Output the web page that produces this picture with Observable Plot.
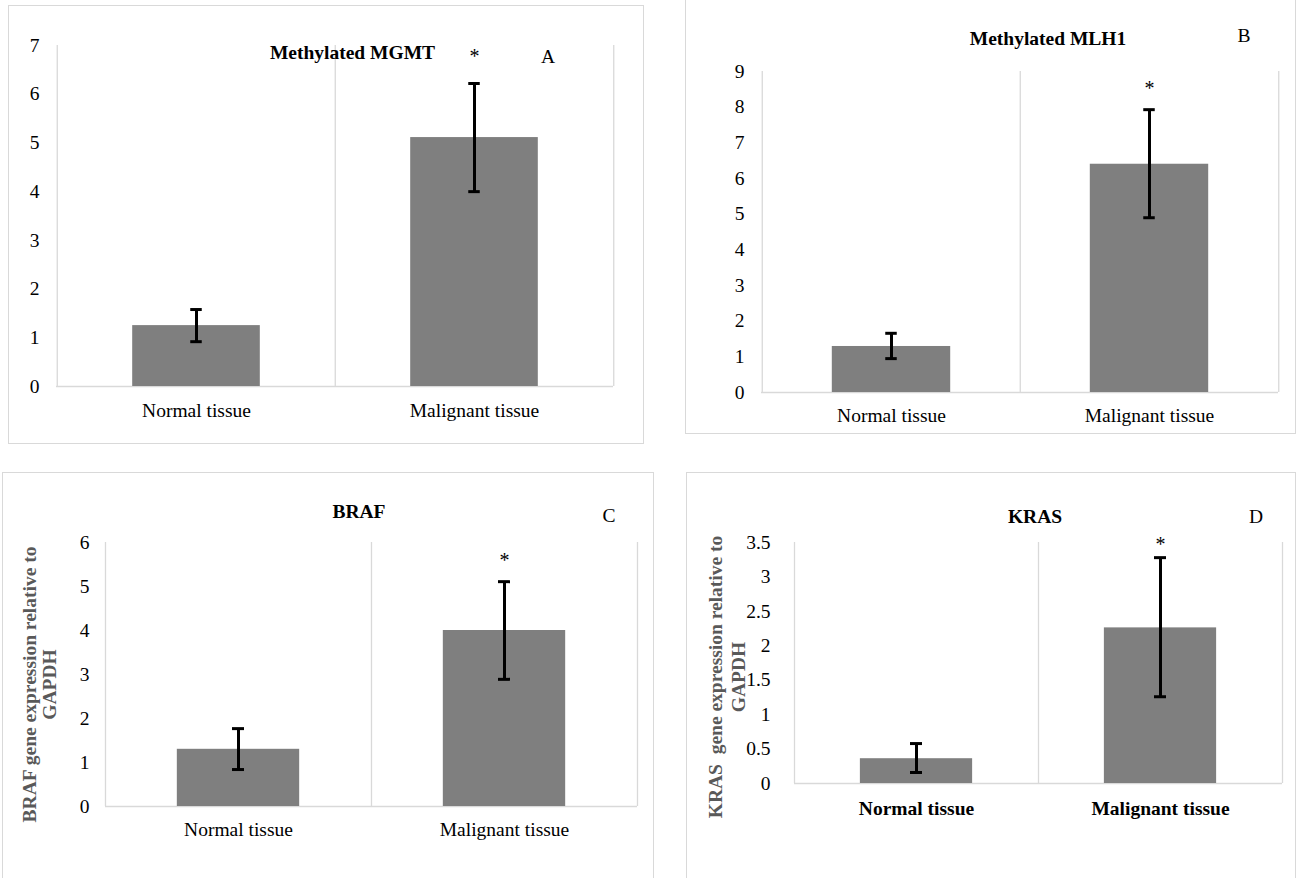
<!DOCTYPE html>
<html>
<head>
<meta charset="utf-8">
<script src="https://cdn.jsdelivr.net/npm/d3@7"></script>
<script src="https://cdn.jsdelivr.net/npm/@observablehq/plot@0.6"></script>
<style>
  html, body { margin: 0; padding: 0; background: #fff; }
  #page { position: relative; width: 1296px; height: 878px; overflow: hidden; background: #fff; }
  .border { position: absolute; box-sizing: border-box; border: 1.5px solid #d9d9d9; }
  .plot { position: absolute; }
  .plot svg text { font-family: 'Liberation Serif', 'Times New Roman', Times, serif; }
  #overlay { position: absolute; left: 0; top: 0; pointer-events: none; }
</style>
</head>
<body>
<div id="page"></div>
<script>
// ---- data ----
const categories = ["Normal tissue", "Malignant tissue"];

const mgmtMean = [1.25, 5.11];
const mgmtLow  = [0.92, 4.00];
const mgmtHigh = [1.58, 6.22];
const mgmtStar = [null, 6.78];
const mgmtTicks = [0, 1, 2, 3, 4, 5, 6, 7];

const mlh1Mean = [1.29, 6.40];
const mlh1Low  = [0.95, 4.90];
const mlh1High = [1.66, 7.93];
const mlh1Star = [null, 8.52];
const mlh1Ticks = [0, 1, 2, 3, 4, 5, 6, 7, 8, 9];

const brafMean = [1.30, 4.00];
const brafLow  = [0.84, 2.89];
const brafHigh = [1.77, 5.11];
const brafStar = [null, 5.59];
const brafTicks = [0, 1, 2, 3, 4, 5, 6];

const krasMean = [0.36, 2.26];
const krasLow  = [0.16, 1.26];
const krasHigh = [0.58, 3.28];
const krasStar = [null, 3.47];
const krasTicks = [0, 0.5, 1, 1.5, 2, 2.5, 3, 3.5];

const titles = ["Methylated MGMT", "Methylated MLH1", "BRAF", "KRAS"];
const letters = ["A", "B", "C", "D"];
const yTitles = [null, null, "BRAF gene expression relative to\nGAPDH", "KRAS  gene expression relative to\nGAPDH"];

// ---- layout ----
const FONT = "'Liberation Serif', 'Times New Roman', Times, serif";
const GRID = "#d9d9d9";
const page = document.getElementById("page");

const panels = [
  {mean: mgmtMean, low: mgmtLow, high: mgmtHigh, star: mgmtStar, ticks: mgmtTicks, domain: [0, 7],
   box: [8, 5, 636, 439], margins: [40, 31, 58, 48], ypad: 17, xpad: 17, xBold: false,
   title: titles[0], letter: letters[0], yTitle: yTitles[0],
   titlePos: [352.5, 59], letterPos: [548, 63]},
  {mean: mlh1Mean, low: mlh1Low, high: mlh1High, star: mlh1Star, ticks: mlh1Ticks, domain: [0, 9],
   box: [685, -2, 611, 436], margins: [73, 18, 42, 76], ypad: 17, xpad: 16, xBold: false,
   title: titles[1], letter: letters[1], yTitle: yTitles[1],
   titlePos: [1048, 45], letterPos: [1244, 42]},
  {mean: brafMean, low: brafLow, high: brafHigh, star: brafStar, ticks: brafTicks, domain: [0, 6],
   box: [2, 472, 652, 410], margins: [70, 17, 76, 103], ypad: 16, xpad: 16, xBold: false,
   title: titles[2], letter: letters[2], yTitle: yTitles[2], yTitleDx: -66, yTitleDy: 10, yTitleLH: 1.05,
   titlePos: [359, 518], letterPos: [609, 522]},
  {mean: krasMean, low: krasLow, high: krasHigh, star: krasStar, ticks: krasTicks, domain: [0, 3.5],
   box: [686, 472, 610, 410], margins: [70, 14, 99, 108], ypad: 24, xpad: 18, xBold: true,
   title: titles[3], letter: letters[3], yTitle: yTitles[3], yTitleDx: -68.5, yTitleDy: 14, yTitleLH: 1.18,
   titlePos: [1035, 523], letterPos: [1256, 523]}
];

for (const p of panels) {
  const [left, top, width, height] = p.box;
  const [mt, mr, mb, ml] = p.margins;
  const bw = (width - ml - mr) / 2;
  const barW = bw * 0.46;
  const side = (bw - barW) / 2;
  const cap = (bw - 12) / 2;
  const rows = categories.map((c, i) => ({cat: c, mean: p.mean[i], low: p.low[i], high: p.high[i], star: p.star[i]}));

  const border = document.createElement("div");
  border.className = "border";
  Object.assign(border.style, {left: left + "px", top: top + "px", width: width + "px", height: height + "px"});
  page.appendChild(border);

  const marks = [
    Plot.ruleX(categories, {x: d => d, dx: -bw / 2, stroke: GRID, strokeWidth: 1.3}),
    Plot.ruleX([categories[categories.length - 1]], {x: d => d, dx: bw / 2, stroke: GRID, strokeWidth: 1.3}),
    Plot.ruleY([0], {stroke: GRID, strokeWidth: 1.5}),
    Plot.barY(rows, {x: "cat", y: "mean", fill: "#7f7f7f", insetLeft: side, insetRight: side}),
    Plot.ruleX(rows, {x: "cat", y1: "low", y2: "high", stroke: "#000", strokeWidth: 3}),
    Plot.tickY(rows, {x: "cat", y: "low", stroke: "#000", strokeWidth: 3, insetLeft: cap, insetRight: cap}),
    Plot.tickY(rows, {x: "cat", y: "high", stroke: "#000", strokeWidth: 3, insetLeft: cap, insetRight: cap}),
    Plot.text(rows.filter(d => d.star != null), {x: "cat", y: "star", text: () => "*", fontSize: 20, fontFamily: FONT, fill: "#000"}),
    Plot.axisY(p.ticks, {tickSize: 0, tickPadding: p.ypad, tickFormat: d => String(d), label: null, fill: "#000", fontSize: 19.5, fontFamily: FONT}),
    Plot.axisX({tickSize: 0, tickPadding: p.xpad, label: null, fill: "#000", fontSize: 19.5, fontFamily: FONT, fontWeight: p.xBold ? "bold" : "normal"})
  ];
  if (p.yTitle) {
    marks.push(Plot.text([p.yTitle], {
      text: d => d, frameAnchor: "left", rotate: -90, dx: p.yTitleDx, dy: p.yTitleDy,
      fontWeight: "bold", fill: "#595959", fontSize: 19.5, fontFamily: FONT, lineHeight: p.yTitleLH, textAnchor: "middle"
    }));
  }

  const chart = Plot.plot({
    width, height,
    marginTop: mt, marginRight: mr, marginBottom: mb, marginLeft: ml,
    style: {fontFamily: FONT, fontSize: "19.5px", color: "#000", background: "transparent", overflow: "visible"},
    x: {domain: categories, padding: 0, label: null},
    y: {domain: p.domain, label: null},
    marks
  });
  const wrap = document.createElement("div");
  wrap.className = "plot";
  Object.assign(wrap.style, {left: left + "px", top: top + "px", width: width + "px", height: height + "px"});
  wrap.appendChild(chart);
  page.appendChild(wrap);
}

// titles and panel letters
const NS = "http://www.w3.org/2000/svg";
const overlay = document.createElementNS(NS, "svg");
overlay.setAttribute("id", "overlay");
overlay.setAttribute("width", 1296);
overlay.setAttribute("height", 878);
for (const p of panels) {
  const t = document.createElementNS(NS, "text");
  t.setAttribute("x", p.titlePos[0]);
  t.setAttribute("y", p.titlePos[1]);
  t.setAttribute("text-anchor", "middle");
  t.setAttribute("font-family", FONT);
  t.setAttribute("font-size", "19.5");
  t.setAttribute("font-weight", "bold");
  t.textContent = p.title;
  overlay.appendChild(t);
  const l = document.createElementNS(NS, "text");
  l.setAttribute("x", p.letterPos[0]);
  l.setAttribute("y", p.letterPos[1]);
  l.setAttribute("text-anchor", "middle");
  l.setAttribute("font-family", FONT);
  l.setAttribute("font-size", "19.5");
  l.textContent = p.letter;
  overlay.appendChild(l);
}
page.appendChild(overlay);
</script>
</body>
</html>
